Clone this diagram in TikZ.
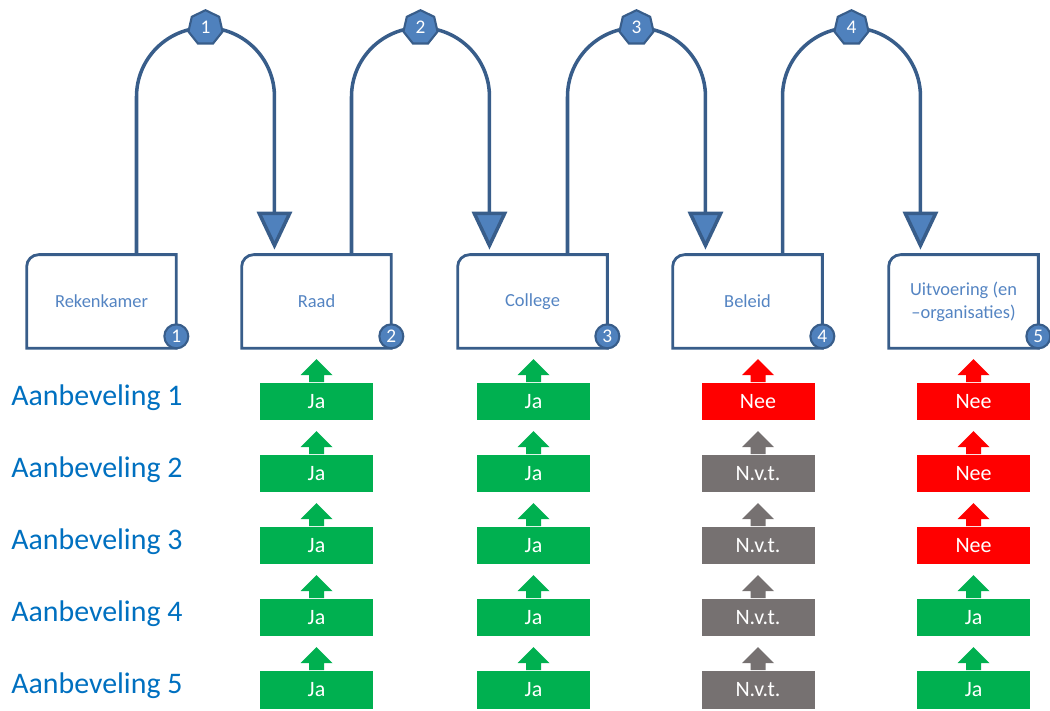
\documentclass[tikz,border=0pt]{standalone}
\usepackage{fontspec}
\setmainfont{Carlito}
\usetikzlibrary{shapes.geometric}
\usetikzlibrary{arrows.meta, positioning}
\definecolor{stageEdge}{RGB}{56,93,138}
\definecolor{stageFill}{RGB}{79,129,189}
\definecolor{stageText}{RGB}{84,132,194}
\definecolor{adviceBlue}{RGB}{0,112,192}
\definecolor{jaGreen}{RGB}{0,176,80}
\definecolor{neeRed}{RGB}{255,0,0}
\definecolor{nvtGrey}{RGB}{118,113,113}
\tikzset{
    stage/.style={minimum width=2.98cm, minimum height=1.86cm, inner sep=0pt, align=center, text=stageText, font=\fontsize{10.5}{13}\selectfont},
    outline/.style={draw=stageEdge, line width=1.6pt},
    flow/.style={draw=stageEdge, line width=2pt, shorten >=0.1cm, -{Triangle[width=0.7cm, length=0.76cm, fill=stageFill]}},
    stepnum/.style={regular polygon, regular polygon sides=7, minimum size=0.7cm, inner sep=0pt, fill=stageFill, draw=stageEdge, line width=1.2pt, text=white, font=\fontsize{11}{13}\selectfont},
    cornernum/.style={circle, minimum size=0.48cm, inner sep=0pt, fill=stageFill, draw=stageEdge, line width=1.2pt, text=white, font=\fontsize{11}{13}\selectfont},
    answer/.style={minimum width=2.26cm, minimum height=0.76cm, inner sep=0pt, text=white, font=\fontsize{12.5}{14}\selectfont},
    advice/.style={anchor=west, inner sep=0pt, text=adviceBlue, font=\fontsize{17}{20}\selectfont}
}
% arrow on top of an answer box
\newcommand{\votearrow}[2]{\fill[#2] (#1.north) ++(-7.5,0) -- ++(0,7) -- ++(-8.5,0) -- ++(16,16) -- ++(16,-16) -- ++(-8.5,0) -- ++(0,-7) -- cycle;}

\begin{document}
\begin{tikzpicture}[x=0.02cm, y=0.02cm]
    \useasboundingbox (0,0) rectangle (1050,710);

    % The five stages
    \node[stage] (rek)  at (101.5,408.5) {Rekenkamer};
    \node[stage] (raad) at (316.5,408.5) {Raad};
    \node[stage] (col)  at (532.5,408.5) {College};
    \node[stage] (bel)  at (747.5,408.5) {Beleid};
    \node[stage] (uit)  at (963.5,408.5) {Uitvoering (en\\–organisaties)};

    % Outline the stages, rounded top left corner only
    \foreach \s/\n in {rek/1, raad/2, col/3, bel/4, uit/5} {
        \draw[outline] (\s.south west) -- ([yshift=-0.24cm]\s.north west)
            arc[start angle=180, end angle=90, radius=0.24cm] -- (\s.north east)
            -- (\s.south east) -- cycle;
        \node[cornernum] (\s-num) at ([yshift=0.24cm]\s.south east) {\n};
    }

    % Hops from one stage to the next
    \foreach \a/\b/\n in {rek/raad/1, raad/col/2, col/bel/3, bel/uit/4} {
        \draw[flow] ([xshift=0.7cm]\a.north) -- ++(0,3.16cm) coordinate (up-\n)
            arc[start angle=180, end angle=0, radius=1.38cm] coordinate (down-\n)
            -- (down-\n |- \b.north);
        \node[stepnum] (hop-\n) at ([xshift=1.38cm, yshift=1.38cm]up-\n) {\n};
    }

    % The recommendations and their answers
    \foreach \r/\bans/\bcol/\uans/\ucol in {1/Nee/neeRed/Nee/neeRed, 2/N.v.t./nvtGrey/Nee/neeRed, 3/N.v.t./nvtGrey/Nee/neeRed, 4/N.v.t./nvtGrey/Ja/jaGreen, 5/N.v.t./nvtGrey/Ja/jaGreen} {
        \node[advice] (adv-\r) at (11,{384-72*\r}) {Aanbeveling \r};
        \node[answer, fill=jaGreen] (raad-\r) at (316.5,{380.5-72*\r}) {Ja};
        \node[answer, fill=jaGreen] (col-\r) at (533.5,{380.5-72*\r}) {Ja};
        \node[answer, fill=\bcol] (bel-\r) at (758,{380.5-72*\r}) {\bans};
        \node[answer, fill=\ucol] (uit-\r) at (973.5,{380.5-72*\r}) {\uans};
        \votearrow{raad-\r}{jaGreen}
        \votearrow{col-\r}{jaGreen}
        \votearrow{bel-\r}{\bcol}
        \votearrow{uit-\r}{\ucol}
    }
\end{tikzpicture}
\end{document}
